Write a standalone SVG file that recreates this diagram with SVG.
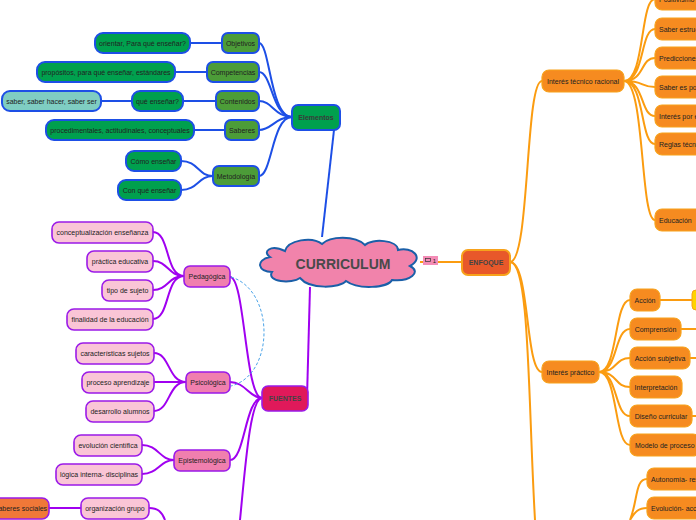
<svg xmlns="http://www.w3.org/2000/svg" width="696" height="520" viewBox="0 0 696 520">
<style>
text{font-family:"Liberation Sans",Arial,sans-serif;font-size:7px;fill:#222;text-anchor:middle;dominant-baseline:central}
.b{stroke:#1d4fe6;stroke-width:2}
.p{stroke:#9b1ae8;stroke-width:1.6}
.o{stroke:#f7a21b;stroke-width:1.2}
.lb{fill:none;stroke:#1d4fe6;stroke-width:2}
.lp{fill:none;stroke:#a000f0;stroke-width:2}
.lo{fill:none;stroke:#fb9c10;stroke-width:2}
.g1{fill:#00a04e}.g2{fill:#4c9c38}.tq{fill:#7fcdc2}
.pk{fill:#fac5d6}.pm{fill:#f07fae}
.or{fill:#f68b20}
</style>
<rect width="696" height="520" fill="#fff"/>
<g id="connectors">
<path class="lb" d="M322 237 L334 130"/>
<path class="lb" d="M292 117 C270 117 270 43 259 43"/>
<path class="lb" d="M292 117 C272 117 272 72 259 72"/>
<path class="lb" d="M292 117 C275 117 272 101 259 101"/>
<path class="lb" d="M292 117 C275 117 272 130 259 130"/>
<path class="lb" d="M292 117 C272 117 272 176 259 176"/>
<path class="lb" d="M190 43 H222 M175 72 H207 M101 101 H132 M183 101 H216 M194 130 H225"/>
<path class="lb" d="M181 161 C198 161 198 176 213 176 M181 190 C198 190 198 176 213 176"/>
<path class="lp" d="M310 287 L307 398"/>
<path class="lp" d="M262 398 C245 398 245 277 230 277"/>
<path class="lp" d="M262 398 C250 398 245 382 230 382"/>
<path class="lp" d="M262 398 C245 398 245 460 230 460"/>
<path class="lp" d="M262 398 C250 398 245 470 240 520"/>
<path class="lp" d="M184 276 C165 276 170 232 153 232 M184 276 C168 276 168 261 153 261 M184 276 C168 276 168 290 153 290 M184 276 C165 276 170 319 153 319"/>
<path class="lp" d="M186 382 C168 382 170 353 154 353 M186 382 H154 M186 382 C168 382 170 411 154 411"/>
<path class="lp" d="M174 460 C160 460 158 445 142 445 M174 460 C160 460 158 474 142 474"/>
<path class="lp" d="M49 508 H81 M149 508 C158 508 162 512 165 520"/>
<path d="M231 277 C275 290 275 375 231 386" fill="none" stroke="#4aa3e8" stroke-width="1" stroke-dasharray="3,2"/>
<path class="lo" d="M420 262 H462"/>
<path class="lo" d="M510 262 C530 262 525 81 542 81"/>
<path class="lo" d="M510 262 C530 262 525 372 542 372"/>
<path class="lo" d="M510 262 C530 262 528 400 535 520"/>
<path class="lo" d="M624 81 C645 81 640 -1 655 -1 M624 81 C645 81 640 29 655 29 M624 81 C645 81 640 58 655 58 M624 81 C645 81 640 87 655 87 M624 81 C645 81 640 116 655 116 M624 81 C645 81 640 144 655 144 M624 81 C645 81 640 220 655 220"/>
<path class="lo" d="M599 372 C618 372 614 300 630 300 M599 372 C618 372 614 329 630 329 M599 372 C618 372 614 358 630 358 M599 372 C618 372 614 387 630 387 M599 372 C618 372 614 416 630 416 M599 372 C618 372 614 445 630 445"/>
<path class="lo" d="M660 300 H692 M681 329 H696 M690 358 H696 M692 416 H696"/>
<path class="lo" d="M630 520 C638 500 635 479 647 479 M630 520 C635 512 638 508 647 508"/>
</g>
<g id="cloud">
<path d="M285 251 C270 244 262 252 270 257 C255 260 258 272 272 272 C266 282 292 284 300 278 C310 290 340 288 346 281 C358 290 388 288 392 280 C410 282 422 272 410 266 C425 258 412 246 398 250 C398 240 372 238 365 245 C355 235 330 236 322 244 C312 236 288 240 285 251 Z" fill="#f183ab" stroke="#1a5fa8" stroke-width="2"/>
<text x="343" y="264" style="font-size:14px;font-weight:bold;fill:#4a4a4a">CURRICULUM</text>
<rect x="423" y="256" width="15" height="9" fill="#f48cb6"/>
<rect x="425.5" y="258.5" width="5" height="3" fill="none" stroke="#333" stroke-width="0.7"/>
<text x="434.5" y="261" style="font-size:6px">1</text>
</g>
<g id="blue-nodes">
<g id="elementos"><rect x="292" y="105" width="48" height="25" rx="6" class="g1 b"/><text x="316" y="117.5" style="font-weight:bold;fill:#3a3a3a">Elementos</text></g>
<g id="objetivos"><rect x="222" y="33" width="37" height="20" rx="6" class="g2 b"/><text x="240.5" y="43">Objetivos</text></g>
<g id="orientar"><rect x="95" y="33" width="95" height="20" rx="8" class="g1 b"/><text x="142.5" y="43">orientar, Para qué enseñar?</text></g>
<g id="competencias"><rect x="207" y="62" width="52" height="20" rx="6" class="g2 b"/><text x="233" y="72">Competencias</text></g>
<g id="propositos"><rect x="37" y="62" width="138" height="20" rx="8" class="g1 b"/><text x="106" y="72">propósitos, para qué enseñar, estándares</text></g>
<g id="contenidos"><rect x="216" y="91" width="43" height="20" rx="6" class="g2 b"/><text x="237.5" y="101">Contenidos</text></g>
<g id="queensenar"><rect x="132" y="91" width="51" height="20" rx="8" class="g1 b"/><text x="157.5" y="101">qué enseñar?</text></g>
<g id="saberser"><rect x="2" y="91" width="99" height="20" rx="8" class="tq b"/><text x="51.5" y="101">saber, saber hacer, saber ser</text></g>
<g id="saberes"><rect x="225" y="120" width="34" height="20" rx="6" class="g2 b"/><text x="242" y="130">Saberes</text></g>
<g id="procedimentales"><rect x="46" y="120" width="148" height="20" rx="8" class="g1 b"/><text x="120" y="130">procedimentales, actitudinales, conceptuales</text></g>
<g id="metodologia"><rect x="213" y="166" width="46" height="20" rx="6" class="g2 b"/><text x="236" y="176">Metodología</text></g>
<g id="como"><rect x="126" y="151" width="55" height="20" rx="8" class="g1 b"/><text x="153.5" y="161">Cómo enseñar</text></g>
<g id="conque"><rect x="118" y="180" width="63" height="20" rx="8" class="g1 b"/><text x="149.5" y="190">Con qué enseñar</text></g>
</g>
<g id="purple-nodes">
<g id="fuentes"><rect x="262" y="386" width="46" height="25" rx="6" fill="#e0195a" class="p"/><text x="285" y="398.5" style="font-weight:bold;fill:#444">FUENTES</text></g>
<g id="pedagogica"><rect x="184" y="266" width="46" height="21" rx="6" class="pm p"/><text x="207" y="276.5">Pedagógica</text></g>
<g id="n1"><rect x="52" y="222" width="101" height="21" rx="7" class="pk p"/><text x="102.5" y="232.5">conceptualización enseñanza</text></g>
<g id="n2"><rect x="87" y="251" width="66" height="21" rx="7" class="pk p"/><text x="120" y="261.5">práctica educativa</text></g>
<g id="n3"><rect x="102" y="280" width="51" height="21" rx="7" class="pk p"/><text x="127.5" y="290.5">tipo de sujeto</text></g>
<g id="n4"><rect x="67" y="309" width="86" height="21" rx="7" class="pk p"/><text x="110" y="319.5">finalidad de la educación</text></g>
<g id="psicologica"><rect x="186" y="372" width="44" height="21" rx="6" class="pm p"/><text x="208" y="382.5">Psicológica</text></g>
<g id="n5"><rect x="76" y="343" width="78" height="21" rx="7" class="pk p"/><text x="115" y="353.5">características sujetos</text></g>
<g id="n6"><rect x="82" y="372" width="72" height="21" rx="7" class="pk p"/><text x="118" y="382.5">proceso aprendizaje</text></g>
<g id="n7"><rect x="86" y="401" width="68" height="21" rx="7" class="pk p"/><text x="120" y="411.5">desarrollo alumnos</text></g>
<g id="epistemologica"><rect x="174" y="450" width="56" height="21" rx="6" class="pm p"/><text x="202" y="460.5">Epistemológica</text></g>
<g id="n8"><rect x="74" y="435" width="68" height="21" rx="7" class="pk p"/><text x="108" y="445.5">evolución científica</text></g>
<g id="n9"><rect x="56" y="464" width="86" height="21" rx="7" class="pk p"/><text x="99" y="474.5">lógica interna- disciplinas</text></g>
<g id="n10"><rect x="81" y="498" width="68" height="21" rx="7" class="pk p"/><text x="115" y="508.5">organización grupo</text></g>
<g id="n11"><rect x="-6" y="498" width="55" height="21" rx="7" fill="#f07838" class="p"/><text x="21" y="508.5">saberes sociales</text></g>
</g>
<g id="orange-nodes">
<g id="enfoque"><rect x="462" y="250" width="48" height="25" rx="6" fill="#e8582a" stroke="#f7a21b" stroke-width="2"/><text x="486" y="262.5" style="font-weight:bold;fill:#444">ENFOQUE</text></g>
<g id="tecnico"><rect x="542" y="70" width="82" height="22" rx="7" class="or o"/><text x="583" y="81">Interés técnico racional</text></g>
<g id="practico"><rect x="542" y="361" width="57" height="22" rx="7" class="or o"/><text x="570.5" y="372">Interés práctico</text></g>
<g id="t1"><rect x="655" y="-12" width="60" height="22" rx="7" class="or o"/><text x="659" y="-1" style="text-anchor:start">Positivismo</text></g>
<g id="t2"><rect x="655" y="18" width="60" height="22" rx="7" class="or o"/><text x="659" y="29" style="text-anchor:start">Saber estructurado</text></g>
<g id="t3"><rect x="655" y="47" width="60" height="22" rx="7" class="or o"/><text x="659" y="58" style="text-anchor:start">Predicciones</text></g>
<g id="t4"><rect x="655" y="76" width="60" height="22" rx="7" class="or o"/><text x="659" y="87" style="text-anchor:start">Saber es poder</text></g>
<g id="t5"><rect x="655" y="105" width="60" height="22" rx="7" class="or o"/><text x="659" y="116" style="text-anchor:start">Interés por el control</text></g>
<g id="t6"><rect x="655" y="133" width="60" height="22" rx="7" class="or o"/><text x="659" y="144" style="text-anchor:start">Reglas técnicas</text></g>
<g id="t7"><rect x="655" y="209" width="60" height="22" rx="7" class="or o"/><text x="659" y="220" style="text-anchor:start">Educación</text></g>
<g id="p1"><rect x="630" y="289" width="30" height="22" rx="7" class="or o"/><text x="645" y="300">Acción</text></g>
<rect x="692" y="290" width="20" height="20" rx="4" fill="#ffd400" stroke="#f7a21b"/>
<g id="p2"><rect x="630" y="318" width="51" height="22" rx="7" class="or o"/><text x="655.5" y="329">Comprensión</text></g>
<g id="p3"><rect x="630" y="347" width="60" height="22" rx="7" class="or o"/><text x="660" y="358">Acción subjetiva</text></g>
<g id="p4"><rect x="630" y="376" width="52" height="22" rx="7" class="or o"/><text x="656" y="387">Interpretación</text></g>
<g id="p5"><rect x="630" y="405" width="62" height="22" rx="7" class="or o"/><text x="661" y="416">Diseño curricular</text></g>
<g id="p6"><rect x="630" y="434" width="70" height="22" rx="7" class="or o"/><text x="635" y="445" style="text-anchor:start">Modelo de proceso</text></g>
<g id="e1"><rect x="647" y="468" width="60" height="22" rx="7" class="or o"/><text x="651" y="479" style="text-anchor:start">Autonomía- responsabilidad</text></g>
<g id="e2"><rect x="647" y="497" width="60" height="22" rx="7" class="or o"/><text x="651" y="508" style="text-anchor:start">Evolución- acción</text></g>
</g>
</svg>
